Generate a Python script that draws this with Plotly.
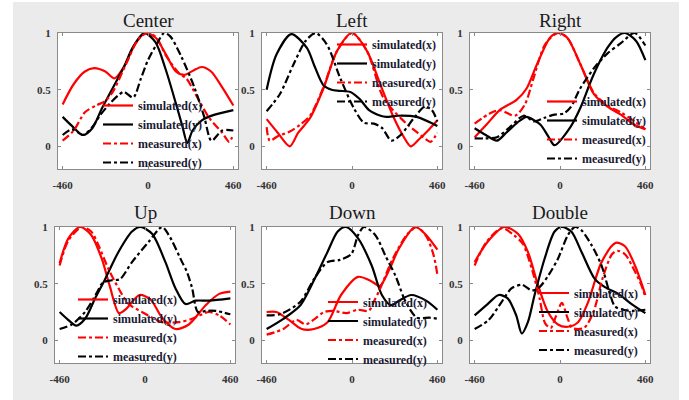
import plotly.graph_objects as go

W, H = 689, 400

# ---------------- data ----------------
TITLES = ["Center", "Left", "Right", "Up", "Down", "Double"]
SERIES_NAMES = ["simulated(x)", "simulated(y)", "measured(x)", "measured(y)"]
X_TICKS = [-460, 0, 460]
Y_TICKS = [0, 0.5, 1]

# Center
CEN_SX_X = [-460, -400, -340, -290, -230, -180, -130, -70, -15, 40, 100, 150, 195, 245, 290, 340, 400, 460]
CEN_SX_Y = [0.37, 0.55, 0.66, 0.69, 0.66, 0.60, 0.70, 0.90, 1.00, 0.96, 0.80, 0.66, 0.63, 0.67, 0.70, 0.66, 0.52, 0.36]
CEN_SY_X = [-460, -410, -350, -300, -250, -185, -130, -80, -20, 40, 95, 150, 185, 212, 240, 290, 360, 460]
CEN_SY_Y = [0.26, 0.18, 0.10, 0.16, 0.33, 0.53, 0.70, 0.88, 1.00, 0.92, 0.68, 0.38, 0.18, 0.03, 0.14, 0.23, 0.28, 0.32]
CEN_MX_X = [-460, -400, -340, -280, -230, -190, -120, -50, 0, 45, 97, 170, 206, 260, 330, 400, 438, 460]
CEN_MX_Y = [0.05, 0.14, 0.30, 0.36, 0.40, 0.48, 0.72, 0.95, 1.00, 0.96, 0.80, 0.64, 0.60, 0.45, 0.25, 0.12, 0.04, 0.11]
CEN_MY_X = [-460, -410, -350, -300, -260, -210, -160, -130, -80, -38, 0, 50, 87, 120, 180, 250, 303, 342, 400, 460]
CEN_MY_Y = [0.10, 0.15, 0.10, 0.17, 0.27, 0.37, 0.45, 0.48, 0.43, 0.60, 0.76, 0.91, 1.00, 0.97, 0.79, 0.52, 0.26, 0.05, 0.14, 0.14]

# Left
LEF_SX_X = [-460, -400, -335, -290, -226, -154, -81, 0, 81, 154, 226, 280, 316, 360, 410, 460]
LEF_SX_Y = [0.24, 0.12, 0.00, 0.12, 0.25, 0.51, 0.84, 1.00, 0.84, 0.54, 0.25, 0.08, 0.00, 0.06, 0.14, 0.23]
LEF_SY_X = [-460, -407, -327, -244, -200, -154, -110, -70, -9, 40, 92, 154, 185, 250, 348, 460]
LEF_SY_Y = [0.50, 0.81, 0.99, 0.87, 0.70, 0.54, 0.50, 0.49, 0.48, 0.42, 0.32, 0.27, 0.26, 0.27, 0.26, 0.18]
LEF_MX_X = [-460, -443, -400, -335, -280, -226, -154, -81, 0, 81, 150, 172, 220, 262, 300, 353, 400, 425, 445, 460]
LEF_MX_Y = [0.17, 0.05, 0.09, 0.13, 0.19, 0.27, 0.52, 0.84, 1.00, 0.84, 0.50, 0.42, 0.32, 0.25, 0.19, 0.12, 0.06, 0.04, 0.08, 0.12]
LEF_MY_X = [-460, -389, -316, -250, -196, -136, -63, 9, 63, 118, 163, 212, 262, 334, 392, 430, 460]
LEF_MY_Y = [0.31, 0.46, 0.72, 0.93, 1.00, 0.90, 0.60, 0.34, 0.21, 0.20, 0.16, 0.05, 0.10, 0.25, 0.35, 0.32, 0.22]

# Right
RIG_SX_X = [-460, -397, -325, -234, -180, -125, -53, -12, 38, 111, 183, 256, 328, 401, 460]
RIG_SX_Y = [0.08, 0.19, 0.32, 0.41, 0.51, 0.72, 0.96, 1.00, 0.96, 0.72, 0.46, 0.35, 0.28, 0.19, 0.15]
RIG_SY_X = [-460, -400, -340, -290, -230, -180, -140, -105, -60, -30, 56, 110, 165, 200, 256, 300, 350, 410, 460]
RIG_SY_Y = [0.16, 0.10, 0.05, 0.12, 0.21, 0.26, 0.23, 0.19, 0.08, 0.01, 0.17, 0.34, 0.57, 0.70, 0.87, 0.96, 1.00, 0.93, 0.76]
RIG_MX_X = [-460, -379, -325, -243, -189, -143, -80, -12, 38, 111, 183, 256, 328, 401, 460]
RIG_MX_Y = [0.20, 0.29, 0.32, 0.27, 0.37, 0.60, 0.90, 1.00, 0.96, 0.72, 0.47, 0.36, 0.30, 0.22, 0.15]
RIG_MY_X = [-460, -400, -340, -270, -196, -140, -87, -30, 20, 60, 105, 183, 256, 328, 401, 460]
RIG_MY_Y = [0.07, 0.07, 0.08, 0.17, 0.27, 0.22, 0.25, 0.28, 0.29, 0.35, 0.50, 0.69, 0.82, 0.91, 1.00, 0.89]

# Up
UP_SX_X = [-460, -413, -350, -290, -233, -190, -140, -100, -30, 30, 92, 164, 236, 327, 400, 460]
UP_SX_Y = [0.68, 0.90, 1.00, 0.93, 0.72, 0.48, 0.24, 0.28, 0.40, 0.36, 0.20, 0.10, 0.14, 0.31, 0.41, 0.43]
UP_SY_X = [-460, -420, -370, -323, -269, -215, -143, -70, -25, 38, 110, 164, 218, 272, 345, 460]
UP_SY_Y = [0.25, 0.19, 0.13, 0.19, 0.37, 0.54, 0.78, 0.96, 1.00, 0.94, 0.69, 0.46, 0.32, 0.35, 0.35, 0.37]
UP_MX_X = [-460, -413, -340, -290, -251, -197, -143, -88, -16, 38, 92, 182, 254, 345, 400, 460]
UP_MX_Y = [0.66, 0.88, 1.00, 0.96, 0.84, 0.63, 0.46, 0.32, 0.25, 0.20, 0.16, 0.16, 0.19, 0.25, 0.22, 0.14]
UP_MY_X = [-460, -395, -323, -260, -227, -180, -135, -70, 20, 92, 128, 200, 227, 254, 285, 330, 380, 460]
UP_MY_Y = [0.10, 0.14, 0.25, 0.42, 0.51, 0.53, 0.54, 0.69, 0.87, 1.00, 0.93, 0.69, 0.60, 0.46, 0.25, 0.26, 0.26, 0.23]

# Down
DOW_SX_X = [-460, -407, -340, -271, -205, -132, -59, 33, 106, 150, 200, 253, 340, 399, 460]
DOW_SX_Y = [0.25, 0.25, 0.18, 0.10, 0.10, 0.16, 0.40, 0.56, 0.52, 0.48, 0.62, 0.81, 1.00, 0.93, 0.80]
DOW_SY_X = [-460, -370, -278, -205, -132, -77, -33, 33, 106, 161, 210, 253, 320, 399, 460]
DOW_SY_Y = [0.10, 0.19, 0.31, 0.53, 0.78, 0.96, 1.00, 0.90, 0.66, 0.40, 0.31, 0.35, 0.40, 0.35, 0.27]
DOW_MX_X = [-460, -370, -300, -250, -200, -150, -100, -30, 30, 90, 120, 150, 220, 300, 350, 400, 440, 460]
DOW_MX_Y = [0.05, 0.10, 0.18, 0.14, 0.19, 0.25, 0.26, 0.24, 0.27, 0.26, 0.35, 0.45, 0.72, 0.94, 1.00, 0.92, 0.75, 0.58]
DOW_MY_X = [-460, -388, -278, -205, -132, -66, -4, 33, 65, 125, 179, 234, 289, 350, 418, 460]
DOW_MY_Y = [0.22, 0.23, 0.34, 0.54, 0.69, 0.71, 0.76, 0.93, 1.00, 0.93, 0.75, 0.57, 0.34, 0.20, 0.20, 0.19]

# Double
DBL_SX_X = [-460, -390, -300, -227, -173, -119, -65, -11, 43, 97, 152, 224, 300, 350, 404, 460]
DBL_SX_Y = [0.69, 0.87, 1.00, 0.94, 0.78, 0.49, 0.25, 0.14, 0.12, 0.16, 0.34, 0.69, 0.86, 0.83, 0.66, 0.40]
DBL_SY_X = [-460, -390, -330, -282, -236, -206, -173, -137, -83, -29, 11, 61, 116, 188, 242, 314, 386, 460]
DBL_SY_Y = [0.22, 0.32, 0.40, 0.37, 0.22, 0.06, 0.16, 0.40, 0.72, 0.96, 1.00, 0.96, 0.78, 0.54, 0.47, 0.41, 0.32, 0.24]
DBL_MX_X = [-460, -400, -314, -250, -200, -150, -110, -80, -50, -20, 10, 40, 65, 130, 180, 230, 280, 310, 350, 400, 440, 460]
DBL_MX_Y = [0.66, 0.86, 0.99, 0.93, 0.85, 0.62, 0.37, 0.15, 0.11, 0.22, 0.33, 0.20, 0.11, 0.11, 0.25, 0.55, 0.76, 0.79, 0.76, 0.62, 0.48, 0.38]
DBL_MY_X = [-460, -384, -314, -260, -206, -151, -110, -60, -11, 43, 81, 116, 170, 224, 260, 296, 340, 400, 460]
DBL_MY_Y = [0.10, 0.18, 0.34, 0.46, 0.49, 0.44, 0.47, 0.58, 0.72, 0.93, 1.00, 0.97, 0.84, 0.66, 0.46, 0.30, 0.27, 0.26, 0.27]

PANEL_DATA = [
    [(CEN_SX_X, CEN_SX_Y), (CEN_SY_X, CEN_SY_Y), (CEN_MX_X, CEN_MX_Y), (CEN_MY_X, CEN_MY_Y)],
    [(LEF_SX_X, LEF_SX_Y), (LEF_SY_X, LEF_SY_Y), (LEF_MX_X, LEF_MX_Y), (LEF_MY_X, LEF_MY_Y)],
    [(RIG_SX_X, RIG_SX_Y), (RIG_SY_X, RIG_SY_Y), (RIG_MX_X, RIG_MX_Y), (RIG_MY_X, RIG_MY_Y)],
    [(UP_SX_X, UP_SX_Y), (UP_SY_X, UP_SY_Y), (UP_MX_X, UP_MX_Y), (UP_MY_X, UP_MY_Y)],
    [(DOW_SX_X, DOW_SX_Y), (DOW_SY_X, DOW_SY_Y), (DOW_MX_X, DOW_MX_Y), (DOW_MY_X, DOW_MY_Y)],
    [(DBL_SX_X, DBL_SX_Y), (DBL_SY_X, DBL_SY_Y), (DBL_MX_X, DBL_MX_Y), (DBL_MY_X, DBL_MY_Y)],
]

# ---------------- layout (pixels) ----------------
BOX_X = [(58, 238), (262, 442), (470, 650), (55, 235), (262, 442), (470, 650)]
BOX_Y = [(33, 169)] * 3 + [(227, 363)] * 3
TITLE_Y = [20, 20, 20, 212, 212, 212]
LEGEND_POS = [(98, 91), (332, 30), (542, 87), (73, 285), (323, 287.5), (534, 278.5)]

DASHDOT = "8px,3px,3px,3px"
STYLES = [
    dict(color="#ff0000", width=2.2, dash="solid"),
    dict(color="#000000", width=2.2, dash="solid"),
    dict(color="#ff0000", width=2.2, dash=DASHDOT),
    dict(color="#000000", width=2.2, dash=DASHDOT),
]

SERIF = "Liberation Serif, Times New Roman, serif"
AXIS_COLOR = "#8a8a8a"

fig = go.Figure()
layout = dict(
    width=W, height=H,
    margin=dict(l=0, r=0, t=0, b=0, autoexpand=False),
    paper_bgcolor="#ebebeb",
    plot_bgcolor="#ffffff",
    showlegend=True,
    annotations=[],
    shapes=[],
)

for i, series in enumerate(PANEL_DATA):
    n = i + 1
    suffix = "" if n == 1 else str(n)
    leg = "legend" if n == 1 else f"legend{n}"
    for (xs, ys), name, st in zip(series, SERIES_NAMES, STYLES):
        fig.add_trace(go.Scatter(
            x=xs, y=ys, name=name, mode="lines",
            line=dict(shape="spline", smoothing=0.8, **st),
            xaxis=f"x{suffix}", yaxis=f"y{suffix}", legend=leg,
        ))
    x0, x1 = BOX_X[i]
    y0, y1 = BOX_Y[i]
    common = dict(
        showline=True, linecolor=AXIS_COLOR, linewidth=1, mirror="ticks",
        ticks="inside", ticklen=3, tickcolor=AXIS_COLOR,
        showgrid=False, zeroline=False,
        tickfont=dict(family=SERIF, size=11, color="#333333", weight="bold"),
    )
    layout[f"xaxis{suffix}"] = dict(
        domain=[x0 / W, x1 / W], anchor=f"y{suffix}", range=[-485, 485],
        tickvals=X_TICKS, ticktext=[str(v) for v in X_TICKS], ticklabelstandoff=6,
        **common)
    layout[f"yaxis{suffix}"] = dict(
        domain=[1 - y1 / H, 1 - y0 / H], anchor=f"x{suffix}", range=[-0.2, 1.0],
        tickvals=Y_TICKS, ticktext=["0", "0.5", "1"], ticklabelstandoff=4,
        **common)
    layout["annotations"].append(dict(
        text=TITLES[i], xref="paper", yref="paper",
        x=(x0 + x1) / 2 / W, y=1 - TITLE_Y[i] / H, xanchor="center", yanchor="middle",
        showarrow=False, font=dict(family=SERIF, size=19, color="#1a1a1a"),
    ))
    lx, ly = LEGEND_POS[i]
    layout[leg] = dict(
        x=lx / W, y=1 - ly / H, xanchor="left", yanchor="top",
        bgcolor="rgba(0,0,0,0)", borderwidth=0,
        font=dict(family=SERIF, size=12, color="#1a1a33", weight="bold"),
        tracegroupgap=0,
    )

# white page edges around the grey figure frame
for (a, b, c, d) in [(0, 0, 13, H), (679, 0, W, H), (0, 0, W, 2)]:
    layout["shapes"].append(dict(
        type="rect", xref="paper", yref="paper",
        x0=a / W, x1=c / W, y0=1 - d / H, y1=1 - b / H,
        fillcolor="#ffffff", line=dict(width=0), layer="above"))

fig.update_layout(**layout)
fig.write_html(
    "out.html",
    config={"displayModeBar": False},
    post_script="document.body.style.margin='0px'; document.body.style.overflow='hidden';",
)
